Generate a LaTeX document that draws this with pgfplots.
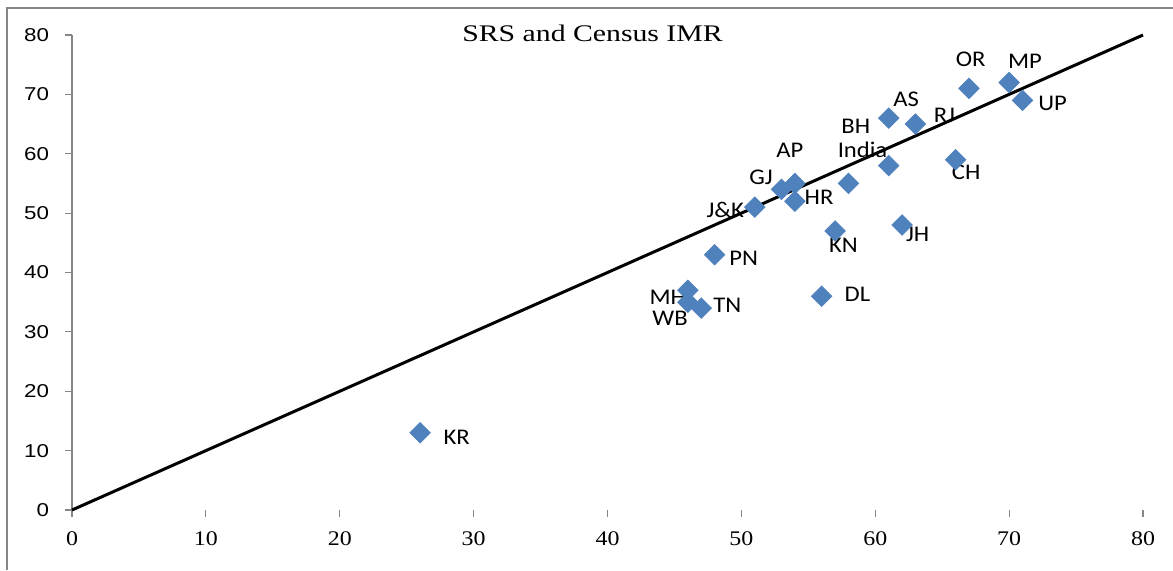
\documentclass[border=0pt]{standalone}
\usepackage{pgfplots}
\pgfplotsset{compat=1.18}
\usepackage{fontspec}
\setmainfont{Liberation Serif}
\newfontfamily\labfont[FakeStretch=1.1]{Carlito}
\newfontfamily\yfont[FakeStretch=1.2]{Liberation Sans}
\newfontfamily\xfont[FakeStretch=1.15]{Liberation Serif}
\newfontfamily\titlefont[FakeStretch=1.25]{Liberation Serif}
\definecolor{ptblue}{RGB}{79,129,189}
\definecolor{axgray}{RGB}{134,134,134}
\begin{document}
\begin{tikzpicture}
\useasboundingbox (0,0) rectangle (586.5pt,285pt);
\draw[axgray, line width=0.8pt] (3.5pt,0) -- (3.5pt,281pt) -- (586.5pt,281pt);
\begin{axis}[
  at={(36pt,30pt)}, anchor=south west,
  scale only axis, width=535.5pt, height=237.5pt,
  xmin=0,xmax=80,ymin=0,ymax=80,
  axis lines=left, axis line style={-, draw=axgray, line width=0.8pt},
  x axis line style={draw=none},
  y axis line style={shorten <=-3.5pt},
  xtick={0,10,...,80}, ytick={0,10,...,80},
  tick align=outside, major tick length=3.5pt,
  tick style={axgray, line width=0.6pt},
  xticklabel style={font=\xfont\fontsize{10.4}{12}\selectfont, yshift=-4pt},
  yticklabel style={font=\yfont\fontsize{9.3}{11}\selectfont, xshift=-4.5pt},
  /pgf/number format/assume math mode=true,
  clip=false,
]
\addplot[black, line width=1.5pt] coordinates {(0,0) (80,80)};
\addplot[only marks, mark=square*, mark size=3.6pt, mark options={rotate=45, fill=ptblue, draw=ptblue}] coordinates {
(67,71) (70,72) (71,69) (61,66) (63,65) (61,58) (58,55) (66,59) (53,54) (54,55)
(54,52) (51,51) (57,47) (62,48) (48,43) (56,36) (46,37) (46,35) (47,34) (26,13)
};
\begin{scope}[every node/.style={font=\labfont\fontsize{11.2}{13}\selectfont, inner sep=0pt}]
\node at (axis cs:67.13,75.9) {OR};
\node at (axis cs:71.19,75.5) {MP};
\node at (axis cs:73.25,68.5) {UP};
\node at (axis cs:62.3,69.1) {AS};
\node at (axis cs:65.17,66.5) {RJ};
\node at (axis cs:58.55,64.7) {BH};
\node at (axis cs:59.05,60.6) {India};
\node at (axis cs:66.79,56.9) {CH};
\node at (axis cs:53.62,60.6) {AP};
\node at (axis cs:51.47,56.1) {GJ};
\node at (axis cs:55.8,52.7) {HR};
\node at (axis cs:48.8,50.6) {J\&K};
\node at (axis cs:57.62,44.5) {KN};
\node at (axis cs:63.17,46.5) {JH};
\node at (axis cs:50.17,42.4) {PN};
\node at (axis cs:58.67,36.3) {DL};
\node at (axis cs:44.5,35.9) {MH};
\node at (axis cs:44.67,32.3) {WB};
\node at (axis cs:48.95,34.5) {TN};
\node at (axis cs:28.74,12.3) {KR};
\end{scope}
\end{axis}
\node[font=\titlefont\fontsize{11.9}{14}\selectfont, anchor=base] at (296.25pt,264.2pt) {SRS and Census IMR};
\end{tikzpicture}
\end{document}
